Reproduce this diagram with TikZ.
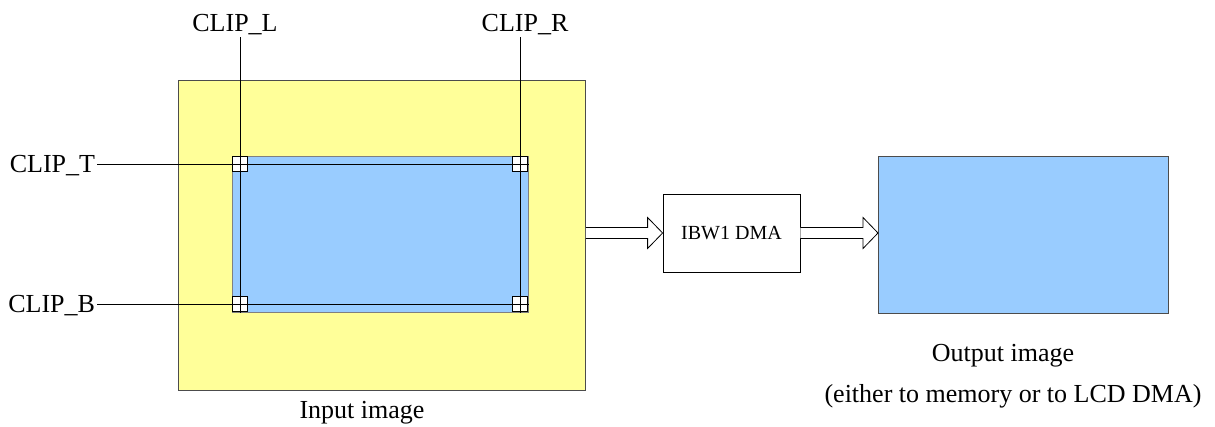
\documentclass[tikz,border=0pt]{standalone}
\usepackage{fontspec}
\setmainfont{Liberation Serif}
\usetikzlibrary{calc}

\definecolor{inyellow}{HTML}{FFFF99}
\definecolor{clipblue}{HTML}{99CCFF}

% hollow block arrow from #1 to the tip #2
\newcommand{\hollowarrow}[2]{%
    \draw[fill=white] ($(#1)+(0,5.5)$) -- ($(#2)+(-15,5.5)$) -- ($(#2)+(-15,15.5)$) -- (#2)
        -- ($(#2)+(-15,-15.5)$) -- ($(#2)+(-15,-5.5)$) -- ($(#1)+(0,-5.5)$);
}

\begin{document}
\begin{tikzpicture}[x=1pt, y=-1pt, line width=0.8pt,
    lbl/.style={font=\fontsize{26}{30}\selectfont, inner sep=0pt, outer sep=2pt},
    corner/.style={draw, fill=white, minimum size=15pt, inner sep=0pt},
    area/.style={draw, anchor=north west, inner sep=0pt}]
    \useasboundingbox (0,0) rectangle (1215,427);

    % Input image and the clipped region
    \node[area, draw=black!70, fill=inyellow, minimum width=407pt, minimum height=310pt] (input) at (178,80) {};
    \node[area, draw=black!50, fill=clipblue, minimum width=296pt, minimum height=156pt] (clip) at (232,156) {};

    % Clip corners
    \coordinate (TL) at (240,164);
    \coordinate (TR) at (520,164);
    \coordinate (BL) at (240,304);
    \coordinate (BR) at (520,304);
    \foreach \c in {TL,TR,BL,BR} {
        \node[corner] at (\c) {};
    }

    % Clip labels
    \node[lbl, anchor=base] (clipL) at (235,32) {CLIP\_L};
    \node[lbl, anchor=base] (clipR) at (525,32) {CLIP\_R};
    \node[lbl, anchor=base east] (clipT) at (97,173) {CLIP\_T};
    \node[lbl, anchor=base east] (clipB) at (97,313) {CLIP\_B};

    % Clip lines
    \draw (clipL.south -| TL) -- (TL |- clip.south);
    \draw (clipR.south -| TR) -- (TR |- clip.south);
    \draw (clipT.east |- TL) -- (clip.east |- TL);
    \draw (clipB.east |- BL) -- (clip.east |- BL);

    % DMA and output image
    \node[draw, minimum width=137pt, minimum height=78pt, font=\fontsize{20}{24}\selectfont] (dma) at (731.5,233) {IBW1 DMA};
    \node[area, draw=black!70, fill=clipblue, minimum width=290pt, minimum height=157pt] (output) at (878,156) {};

    % Arrows
    \hollowarrow{input.east |- dma.west}{dma.west}
    \hollowarrow{dma.east}{output.west |- dma.east}

    % Captions
    \node[lbl, anchor=base] (inCap) at (362,418) {Input image};
    \node[lbl, anchor=base] (outCap) at (1003,362) {Output image};
    \node[lbl, anchor=base] (outNote) at (1013,402) {(either to memory or to LCD DMA)};
\end{tikzpicture}
\end{document}
